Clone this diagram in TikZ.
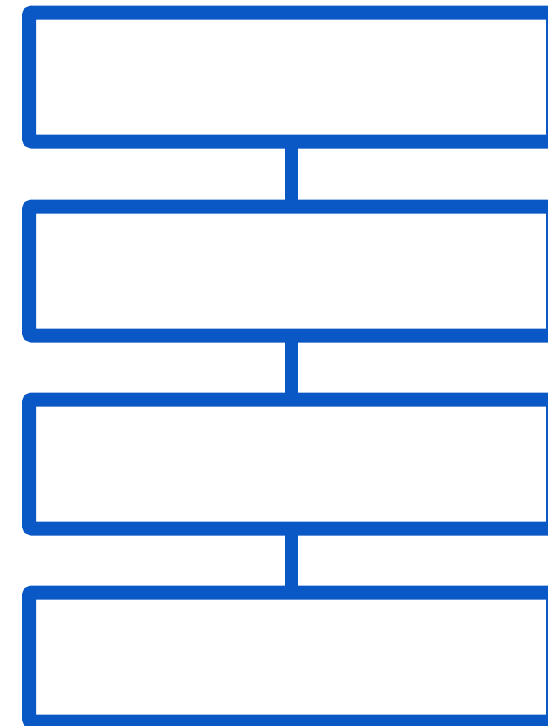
\documentclass[tikz,border=0pt]{standalone}
\definecolor{boxblue}{RGB}{10,88,198}
\begin{document}
\begin{tikzpicture}[x=1pt,y=-1pt,
  blockbox/.style={draw=boxblue,line width=14pt,rounded corners=3pt,fill=white,
    minimum width=524pt,minimum height=129pt,inner sep=0pt,outer sep=0pt},
  link/.style={draw=boxblue,line width=13pt}]
\fill[white] (0,0) rectangle (548,726);
\clip (0,0) rectangle (548,726);
\node[blockbox] (b1) at (291,77) {};
\node[blockbox] (b2) at (291,271) {};
\node[blockbox] (b3) at (291,464) {};
\node[blockbox] (b4) at (291,657) {};
\draw[link] (b1.south) -- (b2.north);
\draw[link] (b2.south) -- (b3.north);
\draw[link] (b3.south) -- (b4.north);
\end{tikzpicture}
\end{document}
